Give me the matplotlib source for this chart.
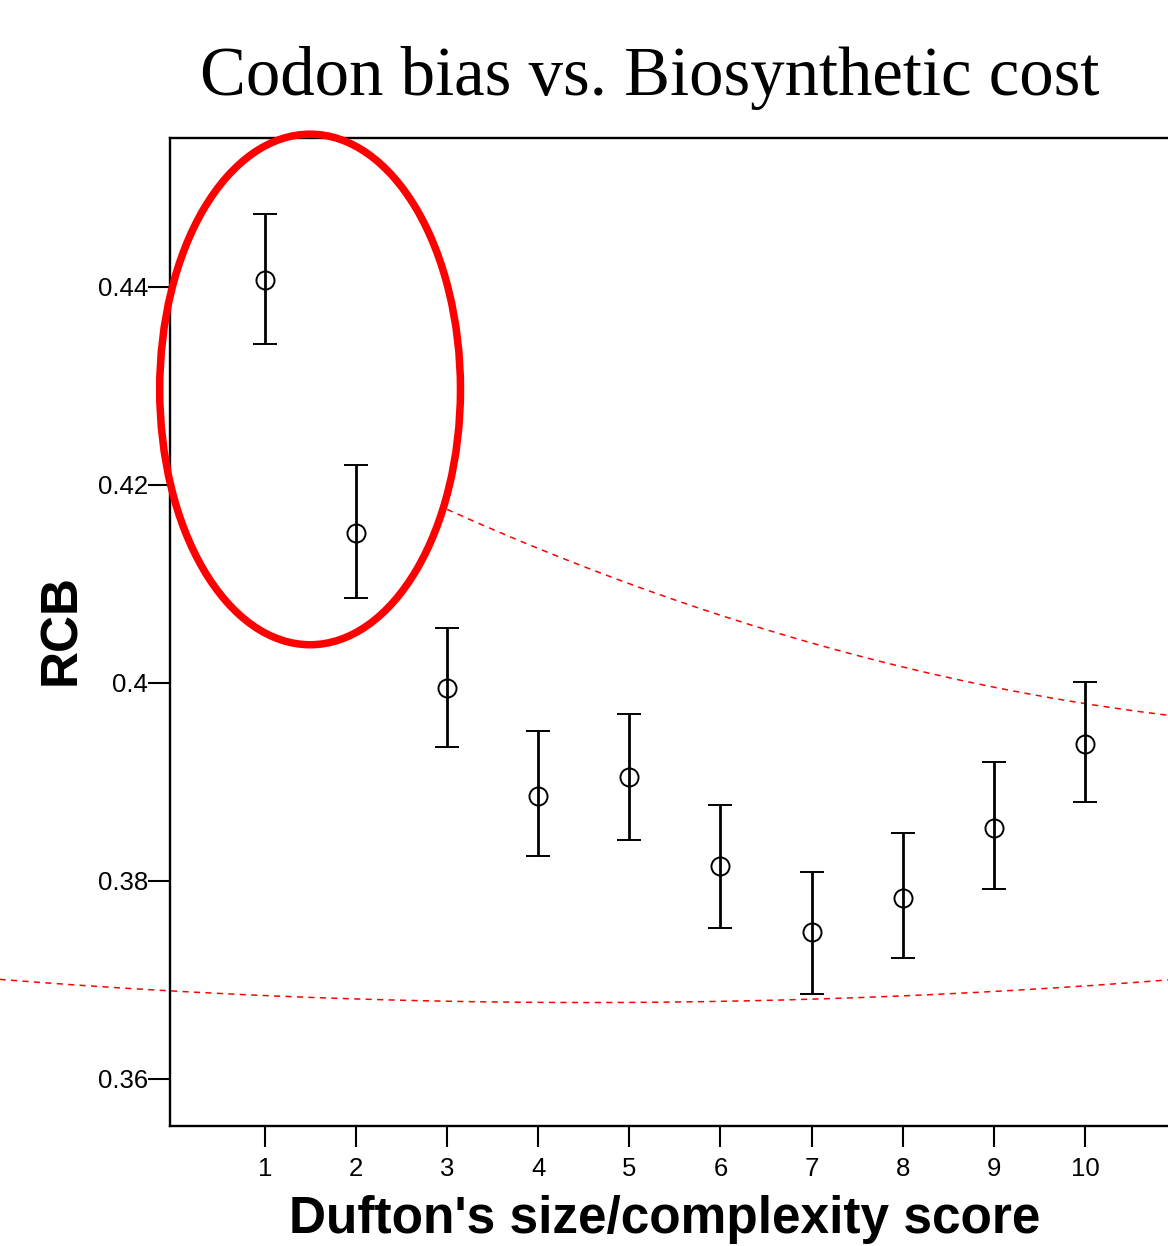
import numpy as np
import matplotlib
matplotlib.use("Agg")
import matplotlib.pyplot as plt
from matplotlib.patches import Ellipse
from matplotlib.ticker import FuncFormatter

# Dufton score groups and mean RCB with interval bounds
scores = [1, 2, 3, 4, 5, 6, 7, 8, 9, 10]
rcb_mean = [0.4407, 0.4152, 0.3995, 0.3886, 0.3905, 0.3815, 0.3748, 0.3783, 0.3854, 0.3938]
rcb_upper = [0.4474, 0.4220, 0.4056, 0.3951, 0.3969, 0.3877, 0.3809, 0.3848, 0.3920, 0.4001]
rcb_lower = [0.4342, 0.4086, 0.3935, 0.3825, 0.3841, 0.3753, 0.3686, 0.3722, 0.3792, 0.3880]

y_ticks = [0.36, 0.38, 0.40, 0.42, 0.44]

# hand-drawn trend guides (points the dashed curves pass through)
upper_guide_x = [3.0, 4.27, 5.84, 7.41, 8.99, 10.0, 10.91]
upper_guide_y = [0.4175, 0.4126, 0.4074, 0.4030, 0.3995, 0.3979, 0.3968]
lower_guide_x = [-1.91, -0.04, 4.7, 6.99, 10.91]
lower_guide_y = [0.37023, 0.36866, 0.36768, 0.36825, 0.36993]

# highlighted region (scores 1-2)
hl_center = (1.497, 0.42965)
hl_width = 3.30
hl_height = 0.05157

plt.rcParams["font.family"] = ["Liberation Sans", "DejaVu Sans"]

fig = plt.figure(figsize=(11.68, 12.46), dpi=100)
ax = fig.add_axes([170 / 1168, 1 - 1126 / 1246, 998 / 1168, 988 / 1246])

err = [np.array(rcb_mean) - np.array(rcb_lower), np.array(rcb_upper) - np.array(rcb_mean)]
ax.errorbar(scores, rcb_mean, yerr=err, fmt="o", mfc="none", mec="black",
            ms=13, mew=1.4, ecolor="black", elinewidth=2.0, capsize=8.6,
            capthick=2.0, zorder=3)

# dashed trend guides
for gx, gy in ((upper_guide_x, upper_guide_y), (lower_guide_x, lower_guide_y)):
    coef = np.polyfit(gx, gy, 2)
    xs = np.linspace(gx[0], gx[-1], 300)
    ax.plot(xs, np.polyval(coef, xs), color="red", lw=1.1,
            linestyle=(0, (4, 3.5)), clip_on=False, zorder=1)

ax.add_patch(Ellipse(hl_center, hl_width, hl_height, fill=False,
                     edgecolor="red", lw=5.4, clip_on=False, zorder=5))

ax.set_xlim(-0.04, 10.91)
ax.set_ylim(0.35525, 0.45505)
ax.set_xticks(scores)
ax.set_yticks(y_ticks)
ax.yaxis.set_major_formatter(FuncFormatter(lambda v, _: f"{v:g}"))

ax.spines["right"].set_visible(False)
for side in ("left", "bottom", "top"):
    ax.spines[side].set_linewidth(1.7)
ax.tick_params(axis="y", direction="out", length=16, width=1.5, pad=0, labelsize=18.5)
ax.tick_params(axis="x", direction="out", length=15, width=1.5, pad=7, labelsize=18.5)

ax.set_xlabel("Dufton's size/complexity score", fontsize=37, fontweight="bold")
ax.xaxis.label.set_verticalalignment("baseline")
ax.xaxis.set_label_coords(0.496, -0.1083)
ax.set_ylabel("RCB", fontsize=37, fontweight="bold")
ax.yaxis.label.set_verticalalignment("center")
ax.yaxis.set_label_coords(-0.1082, 0.503)

fig.text(650 / 1168, 1 - 95 / 1246, "Codon bias vs. Biosynthetic cost",
         ha="center", va="baseline", fontsize=49.5, family="Liberation Serif")

fig.savefig("out.png", dpi=100)
